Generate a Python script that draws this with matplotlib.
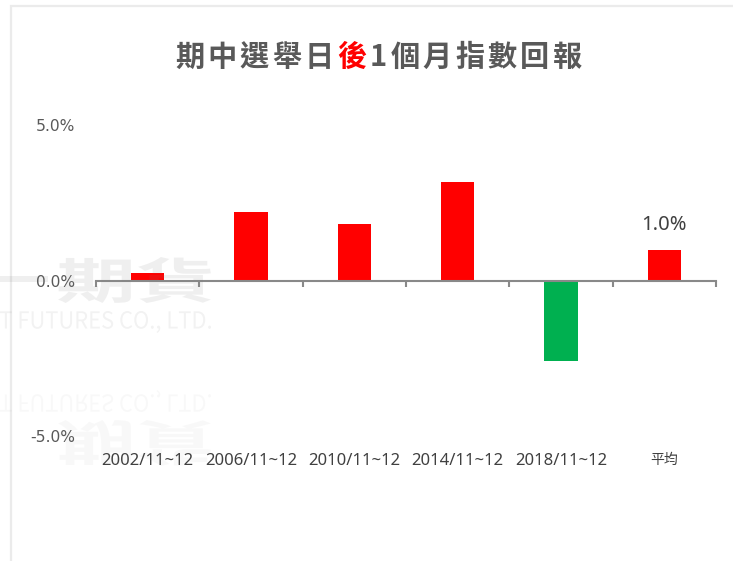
import matplotlib
matplotlib.use("Agg")
import matplotlib.pyplot as plt
from matplotlib.text import Annotation
from matplotlib.textpath import TextPath
from matplotlib.font_manager import FontProperties
from matplotlib.patches import PathPatch, Rectangle
from matplotlib.transforms import Affine2D, IdentityTransform

# 資料 (單位: %)
periods = ["2002/11~12", "2006/11~12", "2010/11~12", "2014/11~12", "2018/11~12", "平均"]
returns = [0.24, 2.20, 1.83, 3.18, -2.60, 0.97]
y_ticks = [-5.0, 0.0, 5.0]

title = "期中選舉日後1個月指數回報"
title_red = "後"

UP = "#ff0000"
DOWN = "#00b050"
TEXT = "#595959"
AXIS = "#898989"
CJK = ["Noto Sans CJK TC", "DejaVu Sans"]
LATIN = ["Noto Sans", "Noto Sans CJK TC"]

W, H = 733, 561
fig = plt.figure(figsize=(W / 100, H / 100), dpi=100)
fig.patch.set_facecolor("white")

# 外框 (淺灰)
fig.add_artist(Rectangle((11 / W, -0.1), 1.2, 1 - 6 / H + 0.1, transform=fig.transFigure,
                         fill=False, edgecolor="#ebebeb", lw=1.6))

ax = fig.add_axes([96 / W, 1 - 436 / H, (716 - 96) / W, (436 - 125) / H])
x = list(range(len(periods)))
colors = [UP if v >= 0 else DOWN for v in returns]
ax.bar(x, returns, width=0.32, color=colors, zorder=2)

ax.set_xlim(-0.5, len(periods) - 0.5)
ax.set_ylim(y_ticks[0], y_ticks[-1])
ax.set_yticks(y_ticks)
ax.set_yticklabels([f"{t:.1f}%" for t in y_ticks], fontsize=11.2, color=TEXT, family="DejaVu Sans")
ax.tick_params(axis="y", length=0, pad=15)

for s in ["top", "right", "left"]:
    ax.spines[s].set_visible(False)
ax.spines["bottom"].set_position(("data", 0))
ax.spines["bottom"].set_color(AXIS)
ax.spines["bottom"].set_linewidth(1.5)
ax.set_xticks([i - 0.5 for i in range(len(periods) + 1)])
ax.set_xticklabels([])
ax.tick_params(axis="x", direction="out", length=4, width=1.5, color=AXIS)

for i, p in enumerate(periods):
    ax.text(i, -0.08, p, transform=ax.get_xaxis_transform(), ha="center", va="center",
            fontsize=12 if i < 5 else 10, color="#404040", family=LATIN)

ax.annotate(f"{returns[-1]:.1f}%", xy=(x[-1], returns[-1]), xytext=(0, 11),
            textcoords="offset points", ha="center", va="bottom",
            fontsize=14.5, color="#404040", family="Noto Sans")

# 標題 (逐字排列, 「後」為紅色)
anchor = fig.text(175 / W, 1 - 72 / H, title[0], ha="left", va="bottom",
                  fontsize=21, weight="bold", color=TEXT, family=CJK)
for ch in title[1:]:
    anchor = fig.add_artist(Annotation(
        ch, xy=(1, 0), xycoords=anchor, xytext=(2.4, 0), textcoords="offset points",
        ha="left", va="bottom", fontsize=21, weight="bold",
        color=UP if ch == title_red else TEXT, family=CJK))

# 浮水印
def watermark(text, box, flip=False, alpha=0.11, weight="bold"):
    tp = TextPath((0, 0), text, size=1, prop=FontProperties(family=CJK[0], weight=weight))
    ext = tp.get_extents()
    x0, y0, x1, y1 = box
    sx = (x1 - x0) / ext.width
    sy = (y1 - y0) / ext.height
    tr = Affine2D().translate(-ext.x0, -ext.y0).scale(sx, sy)
    if flip:
        tr = tr.scale(1, -1).translate(x0, H - y0)
    else:
        tr = tr.translate(x0, H - y1)
    path = tr.transform_path(tp)
    fig.add_artist(PathPatch(path, transform=IdentityTransform(), facecolor="#808080",
                             edgecolor="none", alpha=alpha, zorder=5))

watermark("一", (0, 276, 48, 282), alpha=0.12)
watermark("期貨", (58, 257, 211, 303), alpha=0.12)
watermark("T FUTURES CO., LTD.", (0, 311, 211, 333), alpha=0.10, weight="normal")
watermark("T FUTURES CO., LTD.", (0, 390, 211, 412), flip=True, alpha=0.05, weight="normal")
watermark("期貨", (58, 420, 211, 466), flip=True, alpha=0.05)

fig.savefig("out.png", dpi=100)
